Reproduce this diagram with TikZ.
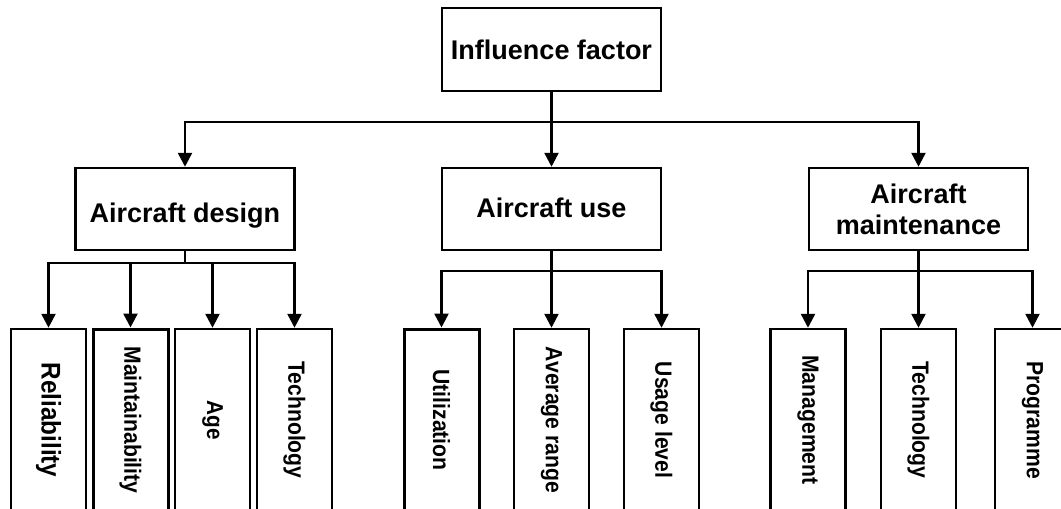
\documentclass[tikz,border=0pt]{standalone}
\usepackage{fontspec}
\setmainfont{Liberation Sans}
\usetikzlibrary{arrows.meta}
\newcommand{\leaftext}[1]{\rotatebox{-90}{\scalebox{0.9}[1]{#1}}}
\begin{document}
\begin{tikzpicture}[x=1pt,y=-1pt,
  box/.style={draw, line width=2.5pt, minimum width=219pt, minimum height=82pt, inner sep=0pt, align=center, font=\bfseries\fontsize{27}{31}\selectfont},
  leaf/.style={draw, line width=2.5pt, minimum width=75pt, minimum height=182pt, inner sep=0pt},
  arr/.style={line width=2.5pt, -{Triangle[width=14pt,length=14pt]}},
  ln/.style={line width=2.5pt}]
\useasboundingbox (0,0) rectangle (1061,509);
\clip (0,0) rectangle (1061,509);
% level 0
\node[box, line width=2.9pt, minimum height=83pt, text height=19pt, text depth=0pt] (root) at (551.5,49.5) {Influence factor};
% level 1
\node[box, text height=26pt, text depth=0pt] (design) at (185,209) {Aircraft design};
\node[box, text height=16pt, text depth=0pt] (use) at (551.5,209) {Aircraft use};
\node[box] (maint) at (918.5,209) {Aircraft\\maintenance};
% level 2
\node[leaf, font=\bfseries\fontsize{27}{31}\selectfont] (l1) at (48.5,420) {\leaftext{Reliability}};
\node[leaf, line width=3pt, font=\bfseries\fontsize{23.5}{28}\selectfont] (l2) at (130.5,420) {\leaftext{Maintainability}};
\node[leaf, font=\bfseries\fontsize{23}{28}\selectfont] (l3) at (212.5,420) {\leaftext{Age}};
\node[leaf, font=\bfseries\fontsize{23.5}{28}\selectfont] (l4) at (294.5,420) {\leaftext{Technology}};
\node[leaf, line width=3pt, font=\bfseries\fontsize{23.5}{28}\selectfont] (l5) at (441.5,420) {\leaftext{Utilization}};
\node[leaf, font=\bfseries\fontsize{23.5}{28}\selectfont] (l6) at (551.5,420) {\leaftext{Average range}};
\node[leaf, font=\bfseries\fontsize{23.5}{28}\selectfont] (l7) at (661.5,420) {\leaftext{Usage level}};
\node[leaf, font=\bfseries\fontsize{23.5}{28}\selectfont] (l8) at (808,420) {\leaftext{Management}};
\node[leaf, font=\bfseries\fontsize{23.5}{28}\selectfont] (l9) at (918.5,420) {\leaftext{Technology}};
\node[leaf, font=\bfseries\fontsize{23.5}{28}\selectfont] (l10) at (1032.5,420) {\leaftext{Programme}};
% junctions
\coordinate (j0) at (551.5,122);
\coordinate (j1) at (185,263);
\coordinate (j2) at (551.5,271);
\coordinate (j3) at (918.5,271);
% connectors
\draw[arr] (root) -- (use);
\draw[arr] (j0) -| (design);
\draw[arr] (j0) -| (maint);
\draw[ln] (design) -- (j1);
\draw[arr] (j1) -| (l1);
\draw[arr] (j1) -| (l2);
\draw[arr] (j1) -| (l3);
\draw[arr] (j1) -| (l4);
\draw[arr] (use) -- (l6);
\draw[arr] (j2) -| (l5);
\draw[arr] (j2) -| (l7);
\draw[ln] (maint) -- (j3);
\draw[arr] (j3) -| (l8);
\draw[arr] (j3) -| (l9);
\draw[arr] (j3) -| (l10);
\end{tikzpicture}
\end{document}
